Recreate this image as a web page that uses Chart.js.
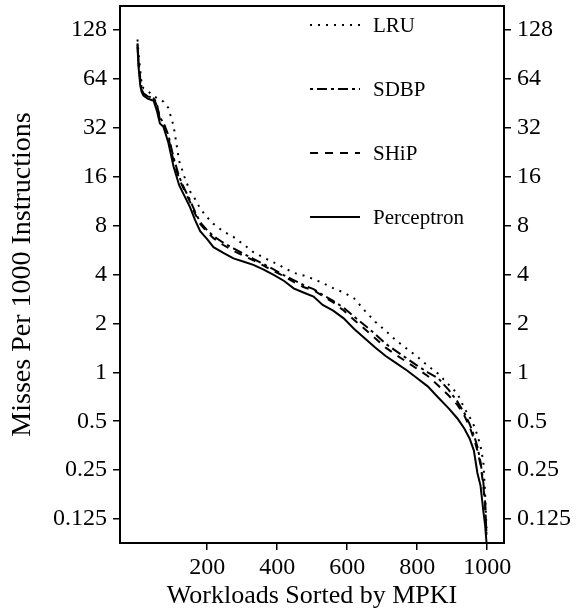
<!DOCTYPE html>
<html>
<head>
<meta charset="utf-8">
<script src="https://cdn.jsdelivr.net/npm/chart.js@4.4.1/dist/chart.umd.min.js"></script>
<style>
html,body{margin:0;padding:0;background:#fff;}
#wrap{width:579px;height:615px;position:relative;}
</style>
</head>
<body>
<div id="wrap"><canvas id="c" width="579" height="615"></canvas></div>
<script>
// Workload rank positions (x) at which values were read
const workloads = [1, 4, 9, 13, 18, 30, 47, 56, 65, 75, 89, 104, 120, 135, 151, 165, 180, 200, 218, 245, 275, 305, 332, 360, 390, 420, 447, 475, 504, 530, 560, 590, 620, 650, 680, 710, 740, 770, 800, 830, 860, 890, 915, 935, 950, 962, 972, 981, 989, 994, 998];

const lru = [112, 92, 72, 59, 56, 54, 50, 49, 47.5, 46.5, 42.4, 33, 20, 16, 13, 11.7, 10.2, 9.0, 8.2, 7.4, 6.82, 6.1, 5.5, 5.1, 4.75, 4.4, 4.1, 3.95, 3.75, 3.55, 3.3, 3.1, 2.85, 2.4, 2.05, 1.8, 1.57, 1.4, 1.25, 1.1, 0.98, 0.84, 0.74, 0.6, 0.53, 0.47, 0.41, 0.35, 0.28, 0.18, 0.11];

const sdbp = [106, 82, 64, 56, 52, 50, 49, 45, 37, 34.5, 29, 21, 16, 13.5, 11.5, 9.8, 8.4, 7.5, 6.9, 6.3, 5.8, 5.35, 5.0, 4.65, 4.3, 3.95, 3.7, 3.45, 3.25, 3.0, 2.75, 2.5, 2.2, 1.95, 1.72, 1.5, 1.35, 1.22, 1.1, 1.0, 0.92, 0.78, 0.66, 0.56, 0.48, 0.41, 0.35, 0.28, 0.21, 0.16, 0.1];

const ship = [104, 80, 62, 55, 52, 50, 48.5, 44, 36, 34, 28, 20, 15.5, 13.2, 11.2, 9.5, 8.2, 7.3, 6.7, 6.1, 5.6, 5.2, 4.9, 4.55, 4.2, 3.9, 3.6, 3.35, 3.2, 2.95, 2.7, 2.4, 2.1, 1.85, 1.62, 1.42, 1.28, 1.16, 1.05, 0.95, 0.83, 0.72, 0.63, 0.54, 0.46, 0.39, 0.33, 0.27, 0.2, 0.15, 0.1];

const perceptron = [101, 76, 58, 53, 50.5, 48.5, 47, 41, 34, 32.5, 26, 18.5, 14.2, 12.2, 10.4, 8.7, 7.4, 6.6, 5.9, 5.45, 5.03, 4.8, 4.59, 4.3, 3.98, 3.65, 3.29, 3.1, 2.93, 2.6, 2.4, 2.15, 1.85, 1.62, 1.42, 1.26, 1.14, 1.03, 0.92, 0.82, 0.7, 0.6, 0.52, 0.45, 0.39, 0.33, 0.24, 0.2, 0.14, 0.115, 0.09];

const seriesNames = ['LRU', 'SDBP', 'SHiP', 'Perceptron'];
const xTickValues = [200, 400, 600, 800, 1000];
const xTickLabels = ['200', '400', '600', '800', '1000'];
const yTickValues = [0.125, 0.25, 0.5, 1, 2, 4, 8, 16, 32, 64, 128];
const yTickLabels = ['0.125', '0.25', '0.5', '1', '2', '4', '8', '16', '32', '64', '128'];

const FONT = '"Liberation Serif", "Times New Roman", serif';
const pts = arr => workloads.map((w, i) => ({x: w, y: arr[i]}));

const dashes = [[2, 6], [3, 4, 10, 4], [8, 7], []];
const values = [lru, sdbp, ship, perceptron];

const datasets = seriesNames.map((n, i) => ({
  label: n,
  data: pts(values[i]),
  borderColor: '#000',
  backgroundColor: '#000',
  borderWidth: 2,
  borderDash: dashes[i],
  borderCapStyle: 'butt',
  pointRadius: 0,
  tension: 0,
  fill: false
}));

const frameLegend = {
  id: 'frameLegend',
  afterDatasetsDraw(chart) {
    const {ctx, chartArea: a} = chart;
    ctx.save();
    ctx.strokeStyle = '#000';
    ctx.lineWidth = 2;
    ctx.setLineDash([]);
    ctx.strokeRect(a.left, a.top, a.right - a.left, a.bottom - a.top);
    // legend
    const offs = [19, 83, 147, 211];
    const x0 = a.left + 190, x1 = a.left + 240, tx = a.left + 253;
    ctx.font = '21px ' + FONT;
    ctx.fillStyle = '#000';
    ctx.textBaseline = 'middle';
    chart.data.datasets.forEach((ds, i) => {
      const y = a.top + offs[i];
      ctx.beginPath();
      ctx.setLineDash(ds.borderDash);
      ctx.lineWidth = 2;
      ctx.lineCap = 'butt';
      ctx.moveTo(x0, y);
      ctx.lineTo(x1, y);
      ctx.stroke();
      ctx.setLineDash([]);
      ctx.fillText(ds.label, tx, y + 1);
    });
    ctx.restore();
  }
};

const yScale = (pos, w) => ({
  type: 'logarithmic',
  position: pos,
  min: 0.089,
  max: 180,
  afterBuildTicks: s => { s.ticks = yTickValues.map(v => ({value: v})); },
  afterFit: s => { s.width = w; s.paddingTop = 0; s.paddingBottom = 0; },
  ticks: {
    color: '#000',
    font: {family: FONT, size: 24},
    padding: 6,
    autoSkip: false,
    callback: (v, i) => yTickLabels[i]
  },
  grid: {display: true, drawOnChartArea: false, drawTicks: true, tickLength: 7, color: '#000', lineWidth: 1.5},
  border: {display: true, color: '#000', width: 2}
});

const y = yScale('left', 120);
y.title = {display: true, text: 'Misses Per 1000 Instructions', color: '#000', font: {family: FONT, size: 28}, padding: {top: 6, bottom: 0}};
const y2 = yScale('right', 75);

new Chart(document.getElementById('c'), {
  type: 'line',
  data: {datasets},
  options: {
    responsive: false,
    animation: false,
    layout: {padding: {top: 6, left: 0, right: 0, bottom: 0}},
    plugins: {legend: {display: false}, tooltip: {enabled: false}},
    scales: {
      x: {
        type: 'linear',
        position: 'bottom',
        min: -49,
        max: 1048,
        afterBuildTicks: s => { s.ticks = xTickValues.map(v => ({value: v})); },
        afterFit: s => { s.height = 72; s.paddingLeft = 0; s.paddingRight = 0; },
        ticks: {color: '#000', font: {family: FONT, size: 24}, padding: 3, maxRotation: 0, autoSkip: false, callback: (v, i) => xTickLabels[i]},
        grid: {display: true, drawOnChartArea: false, drawTicks: true, tickLength: 7, color: '#000', lineWidth: 1.5},
        border: {display: true, color: '#000', width: 2},
        title: {display: true, text: 'Workloads Sorted by MPKI', color: '#000', font: {family: FONT, size: 26}, padding: {top: 0, bottom: 3}}
      },
      y,
      y2
    }
  },
  plugins: [frameLegend]
});
</script>
</body>
</html>
